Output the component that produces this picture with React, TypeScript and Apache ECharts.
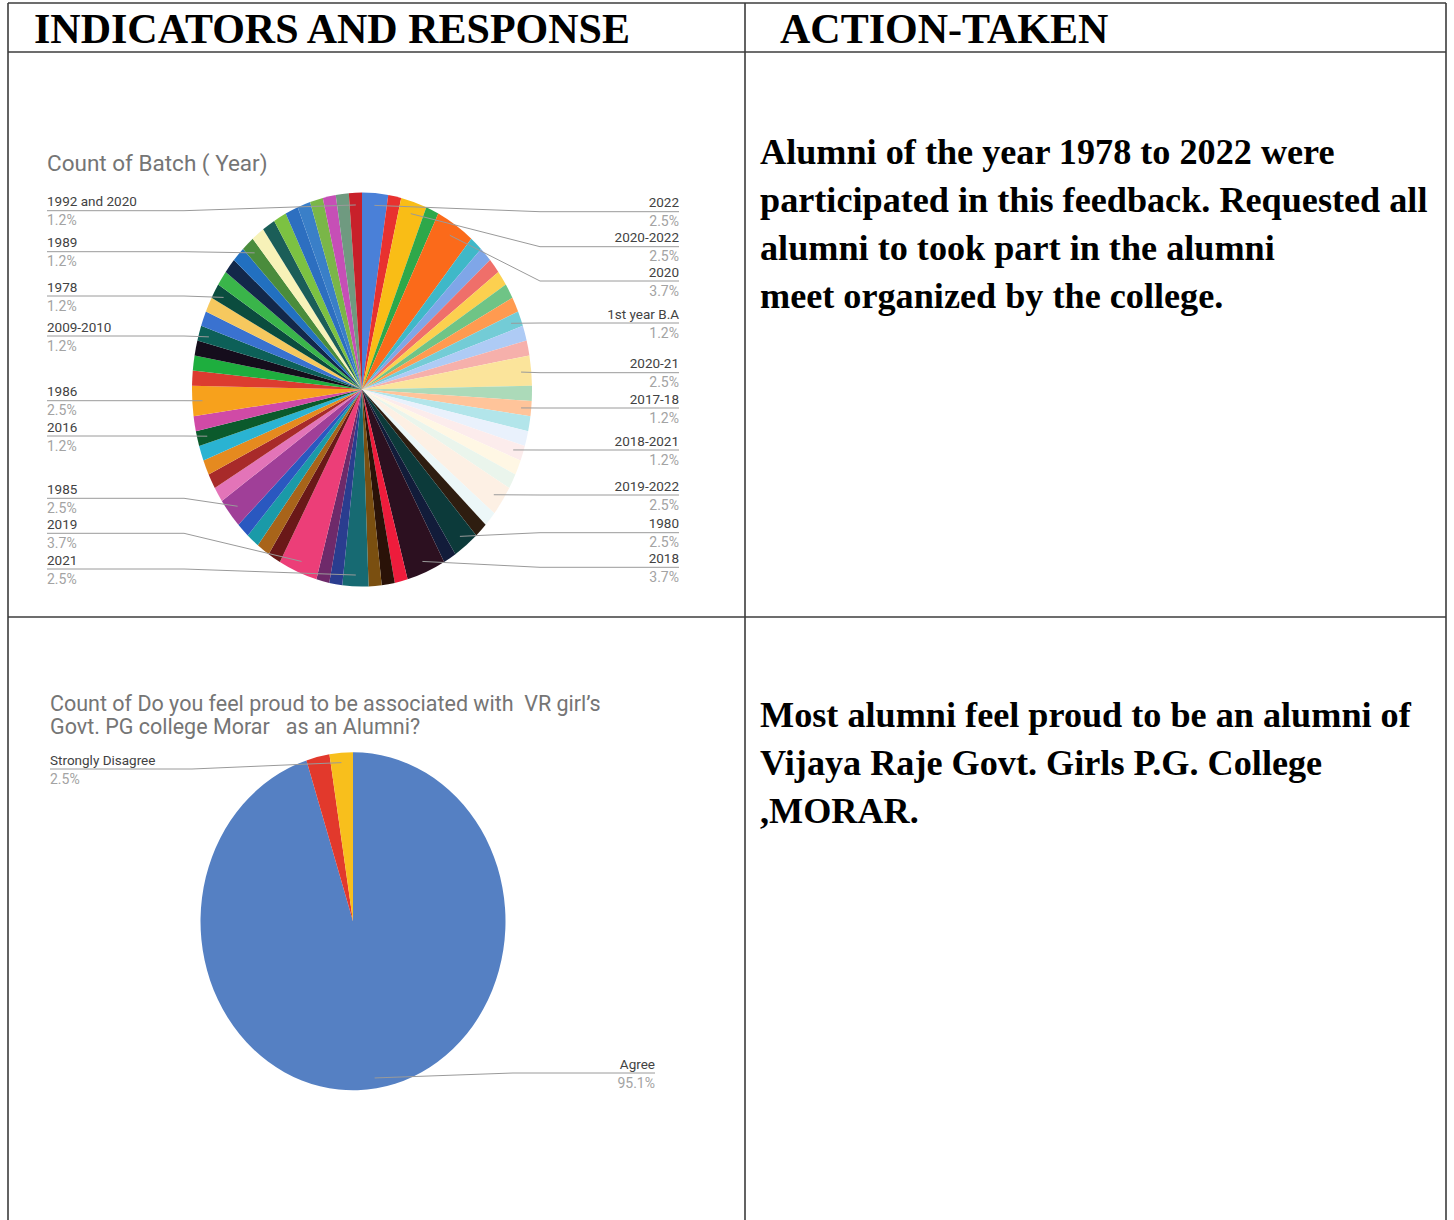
import React, { useEffect, useRef } from "react";
import * as echarts from "echarts";

// ---------- Chart 1: Count of Batch ( Year) — clockwise from 12 o'clock ----------
const batchNames: string[] = [
  "2022", "", "2020-2022", "", "2020", "", "", "", "", "", "", "1st year B.A",
  "", "", "2020-21", "", "2017-18", "", "", "2018-2021", "", "", "2019-2022", "",
  "", "1980", "", "2018", "", "", "", "2021", "", "", "2019", "", "", "", "",
  "1985", "", "", "", "", "2016", "", "1986", "", "", "", "2009-2010", "", "",
  "1978", "", "", "", "1989", "", "", "", "", "", "", "", "", "1992 and 2020",
];
const batchCounts: number[] = [
  2, 1, 2, 1, 3, 1, 1, 1, 1, 1, 1, 1,
  1, 1, 2, 1, 1, 1, 1, 1, 1, 1, 2, 1,
  1, 2, 1, 3, 1, 1, 1, 2, 1, 1, 3, 1, 1, 1, 1,
  2, 1, 1, 1, 1, 1, 1, 2, 1, 1, 1, 1, 1, 1,
  1, 1, 1, 1, 1, 1, 1, 1, 1, 1, 1, 1, 1, 1,
];
const batchColors: string[] = [
  "#4a80d8", "#e8312f", "#f9bd16", "#2ea84a", "#fb6a1a", "#3fb8c8", "#7fa6e8", "#ef6f6a", "#fcd04f", "#6fc486", "#ff9a50", "#73ccd6",
  "#aecbf5", "#f6b0ab", "#fbe49b", "#acdab9", "#ffc49a", "#b2e5ea", "#e9f1fc", "#fcecec", "#fff7e4", "#eaf5ec", "#fdf0e4", "#ecf7f8",
  "#2e1d10", "#0c3a3a", "#121c3a", "#2c1020", "#ee1c3c", "#2a1208", "#7a4f10", "#176a72", "#2a3d8f", "#6e2a6a", "#ec3e78", "#6a1818", "#a8641a", "#1a9aa8", "#2a58c0",
  "#a03f98", "#e374b8", "#a82a2a", "#e58a1f", "#2ab3d2", "#0b5a2c", "#d04aa6", "#f7a11c", "#dc3c30", "#1eae3e", "#150d1c", "#0d6058", "#3a72d0", "#f6c85e",
  "#0b4c3e", "#3ab54a", "#13284a", "#2270c0", "#4a8c3c", "#f7f2b8", "#1b5e58", "#7cc242", "#2d6fc0", "#3a7fc8", "#7ab648", "#c64fb6", "#6f9a80", "#c8202a",
];
const batchLeftLabels: string[] = ["1992 and 2020", "1989", "1978", "2009-2010", "1986", "2016", "1985", "2019", "2021"];
const batchRightLabels: string[] = ["2022", "2020-2022", "2020", "1st year B.A", "2020-21", "2017-18", "2018-2021", "2019-2022", "1980", "2018"];

// ---------- Chart 2: proud to be associated ----------
const proudNames: string[] = ["Agree", "Other", "Strongly Disagree"];
const proudCounts: number[] = [77, 2, 2];
const proudColors: string[] = ["#5580c3", "#e2392c", "#f8bf1c"];
const proudLeftLabels: string[] = ["Strongly Disagree"];
const proudRightLabels: string[] = ["Agree"];

// ---------- Texts ----------
const headerTexts: string[] = ["INDICATORS AND RESPONSE", "ACTION-TAKEN"];
const action1: string[] = [
  "Alumni of the year 1978 to 2022 were",
  "participated in this feedback. Requested all",
  "alumni to took part in the alumni",
  "meet organized by the college.",
];
const action2: string[] = [
  "Most alumni feel proud to be an alumni of",
  "Vijaya Raje Govt. Girls P.G. College",
  ",MORAR.",
];
const title1 = "Count of Batch ( Year)";
const title2: string[] = [
  "Count of Do you feel proud to be associated with  VR girl\u2019s",
  "Govt. PG college Morar   as an Alumni?",
];

// ---------- Layout (page px) ----------
const P1 = { cx: 362, cy: 390, rx: 170, ry: 197, leftX: 47, rightX: 679 };
const P2 = { cx: 352.5, cy: 921, rx: 152.5, ry: 169, leftX: 50, rightX: 655 };
const B_LEFT_Y = [210.7, 251.7, 296, 336, 400.7, 436, 498.3, 533.3, 569];
const B_RIGHT_Y = [211.7, 246.7, 281, 323, 372.7, 408, 450, 495, 532.7, 567.3];
const P_LEFT_Y = [769];
const P_RIGHT_Y = [1073];

const S1 = P1.ry / P1.rx;
const S2 = P2.ry / P2.rx;

const sum = (a: number[]) => a.reduce((s, v) => s + v, 0);

function slicePie(names: string[], counts: number[], colors: string[], c: number, r: number) {
  return {
    animation: false,
    series: [
      {
        type: "pie",
        center: [c, c],
        radius: r,
        startAngle: 90,
        clockwise: true,
        silent: true,
        label: { show: false },
        labelLine: { show: false },
        itemStyle: { borderWidth: 0 },
        emphasis: { disabled: true },
        data: counts.map((v, i) => ({ name: names[i], value: v, itemStyle: { color: colors[i] } })),
      },
    ],
  };
}

const rich = {
  nl: { fontFamily: "Roboto", fontSize: 13.5, color: "#424242", lineHeight: 19, align: "left" },
  pl: { fontFamily: "Roboto", fontSize: 14, color: "#a3a3a3", lineHeight: 19, align: "left" },
  nr: { fontFamily: "Roboto", fontSize: 13.5, color: "#424242", lineHeight: 19, align: "right" },
  pr: { fontFamily: "Roboto", fontSize: 14, color: "#a3a3a3", lineHeight: 19, align: "right" },
};

function labelPie(
  P: any,
  names: string[],
  counts: number[],
  leftL: string[],
  leftY: number[],
  rightL: string[],
  rightY: number[]
) {
  const total = sum(counts);
  const cum: number[] = [];
  let acc = 0;
  counts.forEach((v) => {
    cum.push(acc + v / 2);
    acc += v;
  });
  return {
    type: "pie",
    center: [P.cx, P.cy],
    radius: P.rx,
    startAngle: 90,
    clockwise: true,
    silent: true,
    avoidLabelOverlap: false,
    itemStyle: { color: "rgba(0,0,0,0)", borderWidth: 0 },
    emphasis: { disabled: true },
    label: {
      show: false,
      position: "outside",
      fontFamily: "Roboto",
      formatter: (p: any) => {
        const pct = ((p.value / total) * 100).toFixed(1) + "%";
        return leftL.indexOf(p.name) >= 0 ? `{nl|${p.name}}\n{pl|${pct}}` : `{nr|${p.name}}\n{pr|${pct}}`;
      },
      rich,
    },
    labelLine: { show: false, lineStyle: { color: "#9a9a9a", width: 1 } },
    labelLayout: (params: any) => {
      const name = names[params.dataIndex];
      const li = leftL.indexOf(name);
      const ri = rightL.indexOf(name);
      if (!name || (li < 0 && ri < 0)) return {};
      const isL = li >= 0;
      const y = isL ? leftY[li] : rightY[ri];
      const pts = params.labelLinePoints;
      let ang: number;
      if (pts && pts[0]) ang = Math.atan2(pts[0][1] - P.cy, pts[0][0] - P.cx);
      else ang = (cum[params.dataIndex] / total) * Math.PI * 2 - Math.PI / 2;
      const ax = P.cx + P.rx * 0.94 * Math.cos(ang);
      const ay = P.cy + P.ry * 0.94 * Math.sin(ang);
      const bx = isL ? Math.min(ax, P.cx - P.rx - 8) : Math.max(ax, P.cx + P.rx + 8);
      const ex = isL ? P.leftX : P.rightX;
      return {
        x: ex,
        y,
        align: isL ? "left" : "right",
        verticalAlign: "middle",
        labelLinePoints: [
          [ax, ay],
          [bx, y],
          [ex, y],
        ],
      };
    },
    data: counts.map((v, i) => {
      const show = leftL.indexOf(names[i]) >= 0 || rightL.indexOf(names[i]) >= 0;
      return { name: names[i], value: v, label: { show }, labelLine: { show } };
    }),
  };
}

function txt(text: string, x: number, y: number, font: any) {
  return {
    type: "text",
    x,
    y,
    silent: true,
    style: {
      text,
      x: 0,
      y: 0,
      fill: font.fill,
      fontFamily: font.family,
      fontSize: font.size,
      fontWeight: font.weight,
      align: "left",
      verticalAlign: "middle",
      textAlign: "left",
      textVerticalAlign: "middle",
    },
  };
}

function ln(x1: number, y1: number, x2: number, y2: number) {
  return {
    type: "line",
    silent: true,
    shape: { x1, y1, x2, y2 },
    style: { stroke: "#3c3c3c", lineWidth: 1.6 },
  };
}

export default function App() {
  const bgRef = useRef<HTMLDivElement>(null);
  const p1Ref = useRef<HTMLDivElement>(null);
  const p2Ref = useRef<HTMLDivElement>(null);

  useEffect(() => {
    const c1 = echarts.init(p1Ref.current as HTMLDivElement, null, { renderer: "svg" });
    c1.setOption(slicePie(batchNames, batchCounts, batchColors, 180, P1.rx) as any);
    const c2 = echarts.init(p2Ref.current as HTMLDivElement, null, { renderer: "svg" });
    c2.setOption(slicePie(proudNames, proudCounts, proudColors, 160, P2.rx) as any);

    const bg = echarts.init(bgRef.current as HTMLDivElement, null, { renderer: "svg" });
    const serifBold = { family: "Liberation Serif", size: 36.2, weight: "bold", fill: "#000" };
    const headFont = { family: "Liberation Serif", size: 42, weight: "bold", fill: "#000" };
    const titleFont1 = { family: "Roboto", size: 22.5, weight: "normal", fill: "#757575" };
    const titleFont2 = { family: "Roboto", size: 21.5, weight: "normal", fill: "#757575" };
    const graphics: any[] = [
      ln(8, 3, 1446, 3),
      ln(8, 52, 1446, 52),
      ln(8, 617, 1446, 617),
      ln(8, 3, 8, 1220),
      ln(745, 3, 745, 1220),
      ln(1446, 3, 1446, 1220),
      txt(headerTexts[0], 34, 29, headFont),
      txt(headerTexts[1], 780, 29, headFont),
      txt(title1, 47, 163, titleFont1),
      txt(title2[0], 50, 703, titleFont2),
      txt(title2[1], 50, 726, titleFont2),
    ];
    const a1Y = [152, 200, 248, 296];
    action1.forEach((t, i) => graphics.push(txt(t, 760, a1Y[i], serifBold)));
    const a2Y = [715, 763, 811];
    action2.forEach((t, i) => graphics.push(txt(t, 760, a2Y[i], serifBold)));

    bg.setOption({
      animation: false,
      backgroundColor: "transparent",
      graphic: { elements: graphics },
      series: [
        labelPie(P1, batchNames, batchCounts, batchLeftLabels, B_LEFT_Y, batchRightLabels, B_RIGHT_Y),
        labelPie(P2, proudNames, proudCounts, proudLeftLabels, P_LEFT_Y, proudRightLabels, P_RIGHT_Y),
      ],
    } as any);

    return () => {
      c1.dispose();
      c2.dispose();
      bg.dispose();
    };
  }, []);

  return (
    <div style={{ position: "absolute", left: 0, top: 0, width: 1454, height: 1220, background: "#fff", overflow: "hidden" }}>
      <div
        ref={p1Ref}
        style={{
          position: "absolute",
          left: P1.cx - 180,
          top: P1.cy - 180 * S1,
          width: 360,
          height: 360,
          transform: `scaleY(${S1})`,
          transformOrigin: "0 0",
        }}
      />
      <div
        ref={p2Ref}
        style={{
          position: "absolute",
          left: P2.cx - 160,
          top: P2.cy - 160 * S2,
          width: 320,
          height: 320,
          transform: `scaleY(${S2})`,
          transformOrigin: "0 0",
        }}
      />
      <div ref={bgRef} style={{ position: "absolute", left: 0, top: 0, width: 1454, height: 1220 }} />
    </div>
  );
}
